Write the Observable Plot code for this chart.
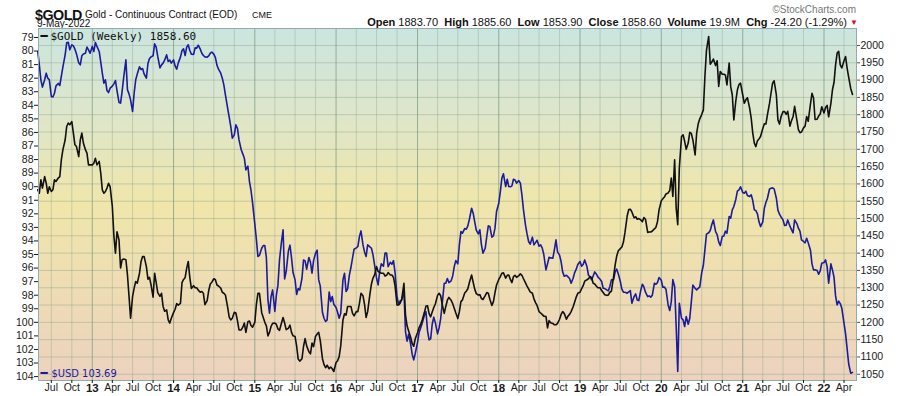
<!DOCTYPE html>
<html>
<head>
<meta charset="utf-8">
<script src="https://cdn.jsdelivr.net/npm/d3@7"></script>
<script src="https://cdn.jsdelivr.net/npm/@observablehq/plot@0.6"></script>
<style>
  html, body { margin: 0; padding: 0; background: #fff; }
  #wrap { position: relative; width: 900px; height: 396px; overflow: hidden; }
  #chart { position: absolute; left: 0; top: 0; }
  #hdr { position: absolute; left: 0; top: 0; font-family: "Liberation Sans", Arial, sans-serif; }
</style>
</head>
<body>
<div id="wrap">
  <div id="chart"></div>
  <svg id="hdr" width="900" height="28" viewBox="0 0 900 28">
    <text x="35" y="19.6" font-size="14.3" font-weight="bold" letter-spacing="-0.5" fill="#111">$GOLD</text>
    <text x="37" y="26.8" font-size="10" fill="#111">9-May-2022</text>
    <text x="85" y="18.3" font-size="10" fill="#111">Gold - Continuous Contract (EOD)</text>
    <text x="252" y="18.3" font-size="9" fill="#111">CME</text>
    <text x="847" y="25.7" font-size="11" fill="#111" text-anchor="end"><tspan font-weight="bold">Open</tspan>&#160;1883.70&#160;&#160;<tspan font-weight="bold">High</tspan>&#160;1885.60&#160;&#160;<tspan font-weight="bold">Low</tspan>&#160;1853.90&#160;&#160;<tspan font-weight="bold">Close</tspan>&#160;1858.60&#160;&#160;<tspan font-weight="bold">Volume</tspan>&#160;19.9M&#160;&#160;<tspan font-weight="bold">Chg</tspan>&#160;-24.20&#160;(-1.29%)</text>
    <text x="850" y="24.5" font-size="8" fill="#c8102e">&#9660;</text>
    <text x="856" y="12.5" font-size="10" fill="#777" text-anchor="end">&#169;StockCharts.com</text>
  </svg>
</div>
<script>
// ---- Data (weekly readings; four samples per month on days 1, 8, 15, 22) ----
const sampleDays = [1, 8, 15, 22];
const firstYear = 2012, firstMonthIndex = 4; // May 2012
const lastDate = "2022-05-09";

const gold2012 = [1583,1573,1612,1588, 1621,1602,1573,1592, 1578,1583,1612,1607, 1617,1621,1670,1699, 1727,1766,1776,1771, 1780,1747,1713,1708, 1679,1727,1747,1718, 1699,1689,1655,1655];
const gold2013 = [1655,1660,1674,1655, 1665,1631,1583,1573, 1578,1588,1602,1592, 1535,1450,1400,1462, 1438,1357,1381,1383, 1381,1337,1275,1212, 1275,1299,1318,1313, 1342,1376,1390,1390, 1361,1325,1330,1308, 1273,1342,1315,1286, 1275,1284,1246,1232, 1236,1207,1198,1212];
const gold2014 = [1228,1238,1254,1250, 1255,1315,1324,1329, 1356,1376,1330,1298, 1306,1300,1300,1293, 1287,1289,1284,1251, 1263,1292,1311,1316, 1326,1323,1308,1305, 1299,1287,1284,1279, 1244,1215,1207,1212, 1229,1227,1205,1178, 1178,1186,1198,1171, 1202,1204,1191,1186];
const gold2015 = [1200,1251,1284,1284, 1228,1214,1200,1190, 1161,1171,1188,1197, 1198,1194,1181,1177, 1198,1214,1198,1179, 1183,1192,1171,1161, 1159,1131,1094,1088, 1095,1131,1153,1132, 1115,1109,1140,1130, 1160,1166,1171,1148, 1095,1078,1069,1076, 1066,1071,1066,1058];
const gold2016 = [1084,1089,1101,1132, 1207,1225,1221,1246, 1246,1246,1226,1219, 1231,1231,1255,1284, 1277,1252,1214,1231, 1281,1311,1328,1337, 1361,1347,1345,1342, 1342,1334,1336,1344, 1337,1337,1330,1306, 1250,1250,1255,1267, 1313,1222,1190,1175, 1157,1139,1131,1153];
const gold2017 = [1170,1185,1194,1207, 1229,1247,1248,1225, 1216,1230,1243,1253, 1278,1284,1277,1252, 1226,1246,1264,1272, 1264,1254,1241,1227, 1211,1231,1260,1265, 1285,1290,1297,1315, 1337,1316,1296,1283, 1279,1280,1269,1266, 1277,1286,1284,1267, 1249,1260,1286,1308];
const gold2018 = [1324,1332,1342,1343, 1328,1336,1337,1324, 1315,1332,1336,1330, 1335,1340,1336,1326, 1314,1305,1297,1288, 1284,1268,1257,1249, 1231,1227,1223,1218, 1217,1184,1205,1199, 1197,1193,1193,1197, 1209,1223,1231,1226, 1209,1218,1223,1231, 1245,1259,1273,1284];
const gold2019 = [1287,1297,1306,1319, 1323,1326,1332,1330, 1313,1311,1305,1300, 1300,1292,1286,1280, 1278,1279,1287,1290, 1333,1367,1392,1407, 1413,1418,1432,1460, 1508,1526,1527,1519, 1502,1505,1498,1500, 1496,1491,1503,1498, 1460,1461,1461,1464, 1470,1475,1491,1525];
const gold2020 = [1551,1557,1562,1571, 1574,1581,1617,1564, 1670,1530,1482,1645, 1737,1742,1723,1700, 1718,1749,1746,1727, 1684,1747,1774,1788, 1801,1814,1910,1986, 2026,1946,1952,1961, 1942,1956,1882,1925, 1917,1917,1915,1886, 1949,1881,1857,1785, 1841,1872,1887,1891];
const gold2021 = [1857,1833,1843,1849, 1819,1790,1747,1718, 1708,1725,1730,1737, 1760,1774,1773,1800, 1832,1862,1891,1898, 1857,1785,1773,1794, 1809,1809,1801,1810, 1767,1783,1794,1824, 1785,1757,1748,1750, 1762,1767,1795,1781, 1830,1862,1848,1786, 1787,1796,1802,1823];
const gold2022 = [1805,1821,1827,1794, 1833,1872,1893,1944, 1978,1983,1944,1935, 1956,1968,1934,1908, 1876,1858.6];

const usd2012 = [80.03,81.02,82.12,82.66, 82.12,81.63,82.0,82.12, 83.35,83.38,83.11,82.57, 82.39,82.54,81.85,81.16, 80.28,79.39,79.35,79.91, 79.54,79.62,79.86,80.21, 80.87,81.02,80.35,80.21, 80.16,79.71,79.91,80.16];
const usd2013 = [79.66,80.03,79.37,79.66, 80.03,80.82,81.63,82.37, 82.12,82.91,83.06,82.74, 82.59,82.42,82.17,82.91, 83.79,83.84,82.98,81.95, 80.65,82.86,83.16,83.6, 84.46,83.11,82.12,81.7, 81.16,81.36,81.29,81.7, 82.0,80.92,80.55,80.43, 80.35,79.47,79.71,80.4, 81.24,81.02,80.89,80.67, 80.28,80.77,80.67,80.89];
const usd2014 = [80.65,81.09,81.34,80.89, 80.45,79.96,79.84,80.33, 79.71,79.54,79.96,80.23, 80.25,79.76,79.79,79.57, 79.86,80.16,80.33,80.43, 80.45,80.35,80.16,80.08, 80.23,80.48,81.04,81.34, 81.63,82.0,82.49,83.23, 84.21,84.88,85.56,86.42, 86.18,85.44,85.69,86.55, 87.28,87.58,87.9,88.76, 88.49,89.62,90.28,91.19];
const usd2015 = [92.74,93.87,95.15,95.05, 94.54,94.34,94.34,95.22, 98.35,99.33,98.1,97.61, 99.2,97.98,97.26,95.4, 94.04,93.18,96.8,96.26, 94.73,94.31,95.25,96.35, 96.87,97.95,97.51,97.61, 96.75,95.4,95.47,96.08, 95.22,95.57,96.38,95.45, 94.9,94.68,96.87,97.31, 99.28,99.7,99.94,99.82, 97.76,98.47,98.1,98.67];
const usd2016 = [98.91,99.26,99.7,99.33, 96.87,96.38,97.73,97.53, 96.5,95.94,95.27,94.61, 94.51,94.41,93.68,93.26, 94.29,94.81,95.15,94.29, 94.44,94.54,95.03,95.76, 96.75,97.24,96.26,95.69, 95.86,94.9,94.9,95.89, 95.57,95.72,95.45,96.31, 98.1,98.67,98.42,98.35, 97.73,100.68,101.39,100.88, 101.59,102.35,102.77,102.28];
const usd2017 = [101.49,100.75,100.41,100.07, 99.48,99.21,100.63,101.3, 101.22,100.14,99.62,100.02, 100.85,100.41,99.72,98.64, 97.12,97.12,96.77,97.07, 96.94,96.58,95.89,95.45, 95.69,94.27,93.31,93.43, 93.09,93.14,92.89,92.4, 91.59,91.95,92.59,93.21, 93.48,93.18,94.27,94.9, 94.54,93.68,92.89,92.94, 93.72,93.63,93.06,91.83];
const usd2018 = [91.22,90.36,89.37,89.05, 89.99,89.45,89.99,90.01, 89.94,89.45,89.5,89.74, 89.55,89.74,90.6,91.71, 92.84,93.48,94.04,94.24, 93.72,94.29,94.12,93.95, 94.39,94.29,94.51,94.98, 96.13,95.69,95.2,95.25, 95.27,94.63,93.92,94.81, 95.05,95.52,96.28,96.6, 96.53,96.65,96.77,97.12, 96.75,96.33,96.08,95.74];
const usd2019 = [95.52,95.86,95.74,95.4, 95.89,96.53,96.65,96.87, 96.58,96.28,96.43,96.65, 96.82,96.99,97.49,97.51, 97.61,97.68,97.36,96.87, 96.85,96.26,96.08,96.43, 96.99,97.56,97.78,97.78, 97.85,97.75,97.66,98.59, 98.1,97.9,98.35,98.4, 97.63,97.19,97.39,97.78, 98.1,98.05,98.15,97.98, 97.12,97.19,97.07,96.7];
const usd2020 = [96.9,97.41,97.39,97.56, 98.74,99.13,98.47,96.85, 97.36,100.31,103.63,98.59, 99.7,99.82,100.31,99.57, 100.14,99.7,98.49,97.26, 97.49,97.61,97.49,97.39, 96.31,95.79,94.66,93.5, 93.4,93.23,92.79,92.45, 93.31,93.53,94.07,94.34, 93.68,93.63,93.28,93.43, 92.2,92.32,91.71,91.46, 90.92,90.33,90.23,90.01];
const usd2021 = [90.43,90.48,90.33,90.65, 90.73,90.6,91.02,91.71, 91.76,92.0,92.59,92.94, 92.59,91.59,91.17,90.85, 90.19,90.11,90.09,90.16, 90.85,91.73,92.03,92.23, 92.45,92.86,92.84,92.45, 92.91,93.16,93.4,92.45, 92.72,93.06,93.28,93.92, 94.04,94.14,93.8,94.14, 94.66,95.69,96.13,96.13, 96.18,96.45,96.21,95.64];
const usd2022 = [95.59,95.4,95.89,97.12, 95.69,96.13,96.67,98.05, 98.71,98.44,98.62,98.96, 100.07,100.85,101.98,103.07, 103.75,103.69];

// ---- Axis tick values ----
const goldTicks = [1050,1100,1150,1200,1250,1300,1350,1400,1450,1500,1550,1600,1650,1700,1750,1800,1850,1900,1950,2000];
const usdTicks = [79,80,81,82,83,84,85,86,87,88,89,90,91,92,93,94,95,96,97,98,99,100,101,102,103,104];
const goldLegend = "$GOLD (Weekly) 1858.60";
const usdLegend = "$USD 103.69";

// ---- Build table ----
const goldAll = [].concat(gold2012, gold2013, gold2014, gold2015, gold2016, gold2017, gold2018, gold2019, gold2020, gold2021, gold2022);
const usdAll = [].concat(usd2012, usd2013, usd2014, usd2015, usd2016, usd2017, usd2018, usd2019, usd2020, usd2021, usd2022);
const n = Math.min(goldAll.length, usdAll.length);
const rows = d3.range(n).map(i => ({
  date: i === n - 1 ? new Date(lastDate) : new Date(Date.UTC(firstYear, firstMonthIndex + Math.floor(i / 4), sampleDays[i % 4])),
  gold: goldAll[i],
  usd: usdAll[i]
}));

// Left ($USD, inverted) axis mapped onto the right ($GOLD) scale
const usdToGold = d3.scaleLinear().domain([79, 104]).range([2023.15, 1043.3]);
const goldToUsd = usdToGold.invert;

const quarterTicks = d3.utcMonth.every(3).range(new Date(Date.UTC(2012, 6, 1)), new Date(Date.UTC(2022, 4, 1)));
const yearTicks = quarterTicks.filter(d => d.getUTCMonth() === 0);
const monthTicks = quarterTicks.filter(d => d.getUTCMonth() !== 0);

const bgDefs = () => {
  const defs = d3.create("svg:defs");
  const g = defs.append("linearGradient").attr("id", "bg").attr("x1", 0).attr("y1", 0).attr("x2", 0).attr("y2", 1);
  [[0, "#cbe5df"], [0.22, "#dce6cd"], [0.5, "#f0e6ab"], [0.75, "#eedcb4"], [1, "#ecd2bf"]]
    .forEach(([o, c]) => g.append("stop").attr("offset", o).attr("stop-color", c));
  return defs.node();
};

const chart = Plot.plot({
  width: 900,
  height: 396,
  marginLeft: 38,
  marginRight: 44,
  marginTop: 28,
  marginBottom: 16,
  style: { fontFamily: "'Liberation Sans', Arial, sans-serif", fontSize: "10.5px", color: "#1a1a1a", background: "transparent" },
  x: { type: "utc", domain: [new Date(Date.UTC(2012, 4, 4, 8)), new Date(Date.UTC(2022, 4, 27))], label: null },
  y: { domain: [1032, 2049.1], label: null },
  marks: [
    bgDefs,
    Plot.frame({ fill: "url(#bg)", stroke: "none" }),
    Plot.gridY(goldTicks, { stroke: "#8fa58c", strokeOpacity: 0.45, strokeWidth: 1 }),
    Plot.gridX(monthTicks, { stroke: "#8fa58c", strokeOpacity: 0.4, strokeWidth: 1 }),
    Plot.gridX(yearTicks, { stroke: "#7f9a82", strokeOpacity: 0.75, strokeWidth: 1 }),
    Plot.line(rows, { x: "date", y: d => usdToGold(d.usd), stroke: "#1b1b9e", strokeWidth: 1.6, curve: "linear" }),
    Plot.line(rows, { x: "date", y: "gold", stroke: "#111", strokeWidth: 1.6, curve: "linear" }),
    Plot.frame({ stroke: "#92abae", strokeWidth: 1 }),
    Plot.axisY(goldTicks, { anchor: "right", tickSize: 3, tickPadding: 1, fontSize: 10.5, label: null, stroke: "#555", tickFormat: d => String(d) }),
    Plot.axisY(usdTicks.map(usdToGold), { anchor: "left", tickSize: 4, tickPadding: 1, fontSize: 10.5, label: null, tickFormat: d => String(Math.round(goldToUsd(d))) }),
    Plot.axisX(monthTicks, { anchor: "bottom", tickSize: 3, tickPadding: 0, fontSize: 10.5, tickFormat: "%b", label: null }),
    Plot.axisX(yearTicks, { anchor: "bottom", tickSize: 3, tickPadding: 0, fontSize: 11.5, fontWeight: "bold", tickFormat: "%y", label: null }),
    Plot.text(["\u2501"], { frameAnchor: "top-left", dx: 2, dy: 8, lineAnchor: "middle", textAnchor: "start", fontFamily: "DejaVu Sans Mono", fontSize: 12, fontWeight: "bold", fill: "#111" }),
    Plot.text([goldLegend], { frameAnchor: "top-left", dx: 12, dy: 8, lineAnchor: "middle", textAnchor: "start", fontFamily: "DejaVu Sans Mono", fontSize: 11, fill: "#111" }),
    Plot.text(["\u2501"], { frameAnchor: "bottom-left", dx: 2, dy: -7, lineAnchor: "middle", textAnchor: "start", fontFamily: "DejaVu Sans Mono", fontSize: 12, fontWeight: "bold", fill: "#1b1b9e" }),
    Plot.text([usdLegend], { frameAnchor: "bottom-left", dx: 13, dy: -7, lineAnchor: "middle", textAnchor: "start", fontFamily: "'Liberation Sans Narrow', 'DejaVu Sans Condensed', 'Liberation Sans', sans-serif", fontSize: 11, fill: "#1b1b9e" })
  ]
});
document.getElementById("chart").appendChild(chart);
</script>
</body>
</html>
